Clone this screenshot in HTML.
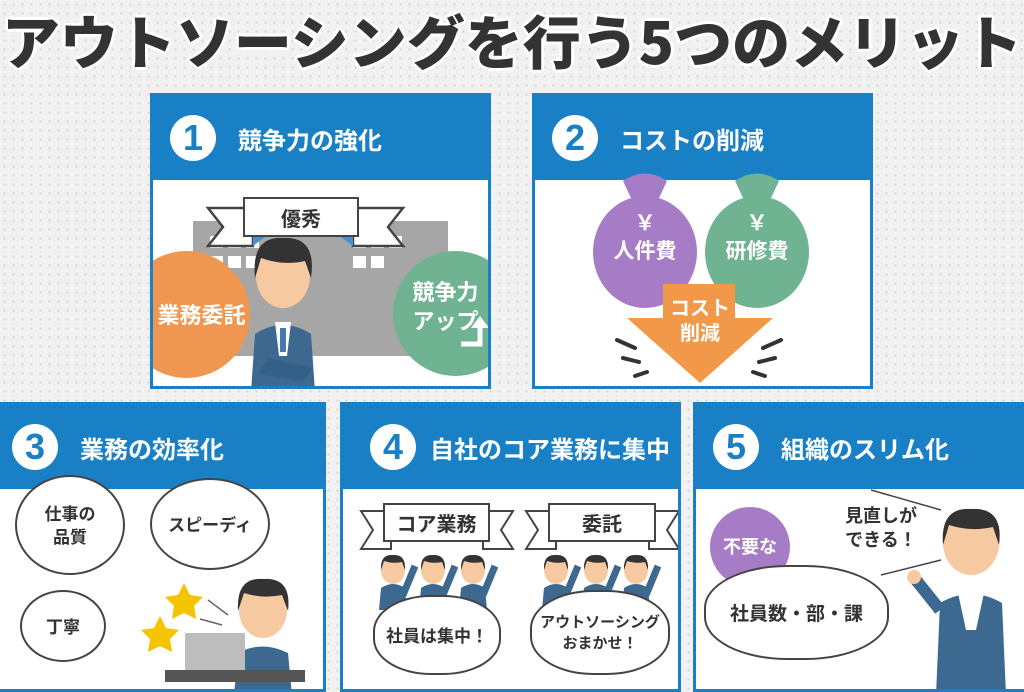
<!DOCTYPE html>
<html><head><meta charset="utf-8"><style>
*{margin:0;padding:0;box-sizing:border-box}
body{width:1024px;height:683px;overflow:hidden;position:relative;background-color:#f1f1f1;background-image:radial-gradient(#d4d4d4 1px,transparent 1.2px);background-size:9px 9px;font-family:"Liberation Sans","Noto Sans CJK JP",sans-serif;font-weight:bold}
.a{position:absolute}
.title{left:0;top:-3px;width:1024px;text-align:center;font-size:58px;color:#333;letter-spacing:0px;text-shadow:3px 0 #fff,-3px 0 #fff,0 3px #fff,0 -3px #fff,2px 2px #fff,-2px -2px #fff,2px -2px #fff,-2px 2px #fff;font-family:"Noto Sans CJK JP",sans-serif;font-weight:900;white-space:nowrap}
.panel{position:absolute;background:#fff;border:3px solid #1a80c6}
.hd{position:absolute;left:0;top:0;right:0;height:84px;background:#1a80c6;color:#fff;font-size:24px;display:flex;align-items:center;font-family:"Noto Sans CJK JP",sans-serif;font-weight:bold;white-space:nowrap}
.num{width:46px;height:46px;border-radius:50%;background:#fff;color:#1a80c6;font-size:36px;font-weight:900;display:flex;align-items:center;justify-content:center;margin-right:22px;font-family:"Liberation Sans",sans-serif;flex:none}
.circ{position:absolute;border-radius:50%;color:#fff;display:flex;align-items:center;justify-content:center;text-align:center;font-size:22px;line-height:1.3;font-family:"Noto Sans CJK JP",sans-serif}
.cloud{position:absolute;background:#fff;border:2px solid #444;border-radius:50%;display:flex;align-items:center;justify-content:center;text-align:center;font-size:17px;color:#333;line-height:1.35;font-family:"Noto Sans CJK JP",sans-serif}
.rib{position:absolute;background:#fff;border:2.5px solid #444;display:flex;align-items:center;justify-content:center;font-size:20px;color:#333;font-family:"Noto Sans CJK JP",sans-serif}
.t{position:absolute;color:#333;font-size:19px;font-family:"Noto Sans CJK JP",sans-serif;line-height:1.35;text-align:center}
</style></head><body>
<div class="a title">アウトソーシングを行う5つのメリット</div>

<!-- Panel 1 -->
<div class="panel" style="left:150px;top:93px;width:341px;height:296px;overflow:hidden">
 <div class="hd" style="padding-left:17px"><div class="num">1</div>競争力の強化</div>
 <div class="a" style="left:40px;top:125px;width:255px;height:135px;background:#a6a6a6"></div>
 <svg class="a" style="left:0;top:0" width="341" height="296">
  <g fill="#fff"><rect x="57" y="140" width="13" height="12"/><rect x="75" y="140" width="13" height="12"/><rect x="93" y="140" width="13" height="12"/><rect x="57" y="160" width="13" height="12"/><rect x="75" y="160" width="13" height="12"/><rect x="93" y="160" width="13" height="12"/>
  <rect x="200" y="140" width="13" height="12"/><rect x="218" y="140" width="13" height="12"/><rect x="236" y="140" width="13" height="12"/><rect x="200" y="160" width="13" height="12"/><rect x="218" y="160" width="13" height="12"/></g>
  <path d="M55 112 L100 112 L100 150 L55 150 L70 131 Z" fill="#fff" stroke="#444" stroke-width="2.5"/>
  <path d="M250 112 L200 112 L200 150 L250 150 L235 131 Z" fill="#fff" stroke="#444" stroke-width="2.5"/>
  <path d="M100 141 L112 141 L100 150Z M200 141 L188 141 L200 150Z" fill="#4a90d0"/>
  <path d="M98 296 L102 238 Q130 220 158 238 L162 296 Z" fill="#3d6890"/>
  <path d="M122 226 L138 226 L134 260 L126 260Z" fill="#fff"/><rect x="127" y="232" width="6" height="24" fill="#4a78a8"/>
  <ellipse cx="130" cy="180" rx="27" ry="32" fill="#f7c9a0"/>
  <path d="M102 182 Q98 140 130 142 Q164 140 158 182 L152 165 Q130 170 108 162 Z" fill="#333"/>
  <path d="M115 262 L160 272 L150 285 L105 278Z" fill="#345f87"/>
 </svg>
 <div class="rib" style="left:90px;top:101px;width:116px;height:40px">優秀</div>
 <div class="circ" style="left:-30px;top:155px;width:127px;height:127px;background:#ef9750;padding-left:30px">業務委託</div>
 <div class="circ" style="left:240px;top:155px;width:125px;height:125px;background:#6fb393;padding-right:20px;align-items:flex-start;padding-top:26px">競争力<br>アップ</div>
 <svg class="a" style="left:305px;top:220px" width="40" height="40"><path d="M3 28 L22 28 L22 10" fill="none" stroke="#fff" stroke-width="5"/><path d="M13 12 L22 0 L31 12Z" fill="#fff"/></svg>
</div>

<!-- Panel 2 -->
<div class="panel" style="left:532px;top:93px;width:341px;height:296px;overflow:hidden">
 <div class="hd" style="padding-left:17px"><div class="num">2</div>コストの削減</div>
 <svg class="a" style="left:0;top:0" width="341" height="296">
  <path d="M88 85 Q110 70 132 85 L124 102 L96 102Z" fill="#a77cc7"/>
  <ellipse cx="110" cy="156" rx="52" ry="56" fill="#a77cc7"/>
  <path d="M200 85 Q222 70 244 85 L236 102 L208 102Z" fill="#6fb393"/>
  <ellipse cx="222" cy="156" rx="52" ry="56" fill="#6fb393"/>
  <path d="M128 188 L200 188 L200 222 L238 222 L165 287 L92 222 L128 222Z" fill="#f19948"/>
  <g stroke="#333" stroke-width="4" stroke-linecap="round"><line x1="82" y1="244" x2="100" y2="252"/><line x1="88" y1="262" x2="104" y2="266"/><line x1="100" y1="280" x2="112" y2="276"/><line x1="246" y1="244" x2="228" y2="252"/><line x1="240" y1="262" x2="224" y2="266"/><line x1="230" y1="280" x2="218" y2="276"/></g>
 </svg>
 <div class="t" style="left:60px;top:112px;width:100px;color:#fff;font-size:21px">￥<br>人件費</div>
 <div class="t" style="left:172px;top:112px;width:100px;color:#fff;font-size:21px">￥<br>研修費</div>
 <div class="t" style="left:115px;top:198px;width:100px;color:#fff;font-size:20px;line-height:1.25">コスト<br>削減</div>
</div>

<!-- Panel 3 -->
<div class="panel" style="left:-3px;top:402px;width:329px;height:290px;overflow:hidden">
 <div class="hd" style="padding-left:12px"><div class="num">3</div>業務の効率化</div>
 <div class="cloud" style="left:15px;top:70px;width:110px;height:100px">仕事の<br>品質</div>
 <div class="cloud" style="left:150px;top:73px;width:120px;height:92px">スピーディ</div>
 <div class="cloud" style="left:20px;top:185px;width:86px;height:72px">丁寧</div>
 <svg class="a" style="left:0;top:0" width="329" height="290">
  <path d="M160 211 l6 12 13 2 -9 9 2 13 -12-6 -12 6 2-13 -9-9 13-2z" fill="#f5c400"/>
  <path d="M184 178 l6 12 13 2 -9 9 2 13 -12-6 -12 6 2-13 -9-9 13-2z" fill="#f5c400"/>
  <g stroke="#666" stroke-width="1.5"><line x1="208" y1="195" x2="228" y2="210"/><line x1="200" y1="214" x2="222" y2="220"/></g>
  <path d="M234 290 L238 248 Q262 235 288 248 L292 290Z" fill="#3d6890"/>
  <ellipse cx="263" cy="205" rx="24" ry="28" fill="#f7c9a0"/>
  <path d="M238 206 Q236 172 263 174 Q292 172 288 206 L282 190 Q263 194 244 188Z" fill="#333"/>
  <rect x="185" y="228" width="60" height="40" fill="#bdbdbd"/>
  <rect x="165" y="265" width="140" height="12" fill="#555"/>
 </svg>
</div>

<!-- Panel 4 -->
<div class="panel" style="left:340px;top:402px;width:341px;height:290px;overflow:hidden">
 <div class="hd" style="padding-left:27px"><div class="num" style="margin-right:14px">4</div>自社のコア業務に集中</div>
 <svg class="a" style="left:0;top:0" width="341" height="290">
  <defs><g id="p">
   <path d="M-14 60 L-12 38 Q0 30 12 38 L14 60Z" fill="#3d6890"/>
   <ellipse cx="0" cy="20" rx="12" ry="14" fill="#f7c9a0"/>
   <path d="M-12 20 Q-13 4 0 5 Q13 4 12 20 L9 12 Q0 14 -9 11Z" fill="#333"/>
   <path d="M10 45 L22 16" stroke="#3d6890" stroke-width="7"/>
  </g></defs>
  <path d="M18 106 L48 106 L48 144 L18 144 L30 125Z" fill="#fff" stroke="#444" stroke-width="2"/>
  <path d="M170 106 L140 106 L140 144 L170 144 L158 125Z" fill="#fff" stroke="#444" stroke-width="2"/>
  <path d="M183 106 L213 106 L213 144 L183 144 L195 125Z" fill="#fff" stroke="#444" stroke-width="2"/>
  <path d="M336 106 L306 106 L306 144 L336 144 L324 125Z" fill="#fff" stroke="#444" stroke-width="2"/>
  <use href="#p" x="50" y="145"/><use href="#p" x="90" y="145"/><use href="#p" x="130" y="145"/>
  <use href="#p" x="213" y="145"/><use href="#p" x="253" y="145"/><use href="#p" x="293" y="145"/>
 </svg>
 <div class="rib" style="left:40px;top:98px;width:107px;height:39px">コア業務</div>
 <div class="rib" style="left:205px;top:98px;width:108px;height:39px">委託</div>
 <div class="cloud" style="left:30px;top:190px;width:128px;height:80px;border-radius:45%">社員は集中！</div>
 <div class="cloud" style="left:187px;top:185px;width:140px;height:85px;border-radius:45%;font-size:15px">アウトソーシング<br>おまかせ！</div>
</div>

<!-- Panel 5 -->
<div class="panel" style="left:693px;top:402px;width:340px;height:290px;overflow:hidden">
 <div class="hd" style="padding-left:17px"><div class="num">5</div>組織のスリム化</div>
 <div class="circ" style="left:14px;top:102px;width:80px;height:80px;background:#a77cc7;font-size:18px">不要な</div>
 <div class="cloud" style="left:8px;top:160px;width:185px;height:95px;border-radius:45%;font-size:19px">社員数・部・課</div>
 <div class="t" style="left:130px;top:98px;width:110px;font-size:18px">見直しが<br>できる！</div>
 <svg class="a" style="left:0;top:0" width="340" height="290">
  <g stroke="#444" stroke-width="1.5"><line x1="175" y1="85" x2="245" y2="105"/><line x1="185" y1="170" x2="245" y2="155"/></g>
  <path d="M240 290 L244 198 Q275 180 306 198 L310 290Z" fill="#3d6890"/>
  <path d="M262 188 L288 188 L280 225 L270 225Z" fill="#fff"/>
  <path d="M244 205 L220 175" stroke="#3d6890" stroke-width="12"/>
  <circle cx="218" cy="172" r="7" fill="#f7c9a0"/>
  <ellipse cx="275" cy="138" rx="28" ry="32" fill="#f7c9a0"/>
  <path d="M247 140 Q244 102 275 104 Q308 102 303 140 L297 122 Q275 127 253 120Z" fill="#333"/>
 </svg>
</div>
</body></html>
